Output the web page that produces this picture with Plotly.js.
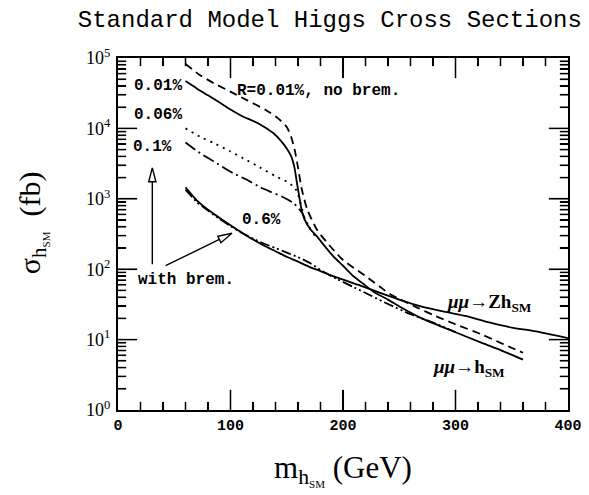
<!DOCTYPE html>
<html>
<head>
<meta charset="utf-8">
<script src="https://cdn.plot.ly/plotly-3.0.1.min.js"></script>
<style>html,body{margin:0;padding:0;background:#fff;}#chart{width:589px;height:495px;}</style>
</head>
<body>
<div id="chart"></div>
<script>
// R = 0.01% (with brem.), continuing as mu mu -> h_SM
const massR001 = [60,70,80,90,100,110,120,130,138,145,150,154,157,159,161,163,166,171,177,183,191,200,209,218,227,240,251,270,295,324,340,360];
const sigR001  = [47000,37000,29500,23500,18500,15000,12800,10500,8600,6600,5200,4000,2700,1700,1100,720,500,370,290,220,155,112,80,62,48,37,29,20,13.7,8.9,7.1,5.2];
// R = 0.01%, no brem.
const massNoBrem = [60,73,85,102,115,132,142,150,154,157,160,163,168,177,190,200,221,242,251,266,280,300,324,340,360];
const sigNoBrem  = [82000,57000,44000,32000,25000,18000,14000,10500,7500,5000,2800,1450,720,360,200,135,78,44,37,28.5,22.4,16.5,11.7,9,6.5];
// R = 0.06%
const massR006 = [60,73,85,100,115,126,140,150,157,160,162,164,166,170,175];
const sigR006  = [10000,7600,6200,4700,3500,2800,2100,1750,1450,1150,900,680,520,390,300];
// R = 0.1%
const massR01 = [60,73,85,102,115,126,136,146,156,161,164,167,171];
const sigR01  = [6300,4450,3400,2330,1850,1470,1250,1070,870,720,620,480,380];
// R = 0.6%
const massR06 = [60,70,80,90,100,110,120,130,140,150,160,170,183,195,210,225,240,260,280,300];
const sigR06  = [1350,900,680,520,410,330,272,230,200,172,148,124,91,72,55,42,32,23,17.5,12.8];
// mu mu -> Z h_SM
const massZh = [60,70,80,90,100,110,120,130,140,150,160,170,180,190,200,215,230,250,270,290,310,330,350,370,400];
const sigZh  = [1450,950,700,540,420,330,265,215,180,150,128,108,94,81,71,59,48,37,29.5,25,21.5,17.5,14.8,13.2,10.5];

// axis ticks
const xMajor = [0,100,200,300,400];
const xMajorText = ['0','100','200','300','400'];
const xMinorStep = 20;
const yDecades = [1,10,100,1000,10000,100000];
const yDecadeText = ['10<sup>0</sup>','10<sup>1</sup>','10<sup>2</sup>','10<sup>3</sup>','10<sup>4</sup>','10<sup>5</sup>'];
const yMinorMult = [2,3,4,5,6,7,8,9];

const X_RANGE = [0,400], Y_LOG_RANGE = [0,5];
const lw = 1.8;
const traces = [
  {x: massNoBrem, y: sigNoBrem, mode:'lines', line:{color:'#000', width:lw, dash:'8px,5px'}},
  {x: massR006, y: sigR006, mode:'lines', line:{color:'#000', width:lw, dash:'2px,5px'}},
  {x: massR01, y: sigR01, mode:'lines', line:{color:'#000', width:lw, dash:'12px,4px,2px,4px'}},
  {x: massR06, y: sigR06, mode:'lines', line:{color:'#000', width:lw, dash:'10px,3px,2px,3px,2px,3px'}},
  {x: massZh, y: sigZh, mode:'lines', line:{color:'#000', width:lw}},
  {x: massR001, y: sigR001, mode:'lines', line:{color:'#000', width:lw}}
];
traces.forEach(t => { t.line.shape = 'spline'; t.line.smoothing = 0.6; t.hoverinfo = 'skip'; });

// minor tick positions
const xMinorVals = [];
for (let v = X_RANGE[0] + xMinorStep; v < X_RANGE[1]; v += xMinorStep) if (xMajor.indexOf(v) < 0) xMinorVals.push(v);
const yMinorVals = [];
yDecades.slice(0, -1).forEach(d => yMinorMult.forEach(m => yMinorVals.push(m * d)));

// tick marks also drawn as thin pixel-sized rectangles anchored on the axes
const shapes = [];
function yFrac(v){ return (Math.log10(v) - Y_LOG_RANGE[0]) / (Y_LOG_RANGE[1] - Y_LOG_RANGE[0]); }
function rect(xref, xa, ya, x0, x1, y0, y1){
  shapes.push({type:'path', xref:xref, yref:'paper', xsizemode:'pixel', ysizemode:'pixel', xanchor:xa, yanchor:ya,
    path:'M' + x0 + ',' + y0 + 'L' + x1 + ',' + y0 + 'L' + x1 + ',' + y1 + 'L' + x0 + ',' + y1 + 'Z',
    fillcolor:'#000', line:{color:'#000', width:0.3}});
}
const HW = 0.6;
function xTick(v, len){ rect('x', v, 0.0001, -HW, HW, 0, len); rect('x', v, 0.9999, -HW, HW, 0, -len); }
function yTick(v, len){ const f = yFrac(v); rect('paper', 0.0001, f, 0, len, -HW, HW); rect('paper', 0.9999, f, 0, -len, -HW, HW); }
xMajor.slice(1, -1).forEach(v => xTick(v, 20));
xMinorVals.forEach(v => xTick(v, 8));
yDecades.slice(1, -1).forEach(v => yTick(v, 19));
yMinorVals.forEach(v => yTick(v, 8));

// hollow arrow heads
const PLOT_W = 450, PLOT_H = 352;
function arrow(tipX, tipLog, tailX, tailLog){
  const dx = (tipX - tailX) * PLOT_W / (X_RANGE[1] - X_RANGE[0]);
  const dy = (tipLog - tailLog) * PLOT_H / (Y_LOG_RANGE[1] - Y_LOG_RANGE[0]);
  const n = Math.hypot(dx, dy), ux = dx / n, uy = dy / n;
  const L = 14, W = 3.6;
  const bx = -L * ux, by = -L * uy;
  const p1 = [bx - W * uy, by + W * ux], p2 = [bx + W * uy, by - W * ux];
  shapes.push({type:'path', xref:'x', yref:'paper', xsizemode:'pixel', ysizemode:'pixel',
    xanchor: tipX, yanchor: tipLog / (Y_LOG_RANGE[1] - Y_LOG_RANGE[0]),
    path: 'M0,0L' + p1[0].toFixed(2) + ',' + p1[1].toFixed(2) + 'L' + p2[0].toFixed(2) + ',' + p2[1].toFixed(2) + 'Z',
    fillcolor:'#fff', line:{color:'#000', width:1.4}});
  return {x:tipX, y:tipLog, ax:tailX, ay:tailLog, xref:'x', yref:'y', axref:'x', ayref:'y', text:'',
    showarrow:true, arrowhead:0, arrowwidth:1.4, arrowcolor:'#000', standoff:L};
}

const lab = {family:'Liberation Mono, monospace', size:16, color:'#000', weight:'bold'};
const muFont = {family:'Liberation Serif, serif', size:19, color:'#000', weight:'bold'};
function txt(x, y, text, font, xanchor){
  return {x:x, y:y, xref:'x', yref:'y', text:text, showarrow:false, font:font, xanchor:xanchor||'center', yanchor:'middle'};
}
const annotations = [
  txt(35.6, 4.60, '0.01%', lab),
  txt(35.6, 4.19, '0.06%', lab),
  txt(30.7, 3.73, '0.1%', lab),
  txt(104, 4.53, 'R=0.01%, no brem.', lab, 'left'),
  txt(127.6, 2.70, '0.6%', lab),
  txt(60, 1.85, 'with brem.', lab),
  txt(330, 1.52, '<i>μμ</i>→Zh<sub>SM</sub>', muFont),
  txt(312, 0.60, '<i>μμ</i>→h<sub>SM</sub>', muFont),
  arrow(30.5, 3.44, 30.5, 2.05),
  arrow(101.3, 2.51, 41, 2.04),
  {x:-0.191, y:0.531, xref:'paper', yref:'paper', xanchor:'center', yanchor:'middle', textangle:-90, showarrow:false,
   text:'σ<sub>h<span style="font-size:11px;baseline-shift:-4px">SM</span></sub>  (fb)',
   font:{family:'Liberation Serif, serif', size:30, color:'#000'}}
];

const tickCommon = {ticks:'inside', tickwidth:1.2, tickcolor:'#000', showline:true, linewidth:2, linecolor:'#000', mirror:'ticks', showgrid:false, zeroline:false};
const layout = {
  width:589, height:495,
  margin:{l:118, r:21, t:58, b:85},
  paper_bgcolor:'#fff', plot_bgcolor:'#fff',
  showlegend:false,
  title:{text:'Standard Model Higgs Cross Sections', font:{family:'Liberation Mono, monospace', size:24, color:'#000'}, x:0.56, xref:'container', xanchor:'center', y:0.962, yref:'container', yanchor:'middle'},
  xaxis:Object.assign({}, tickCommon, {
    range:X_RANGE, tickmode:'array', tickvals:xMajor, ticktext:xMajorText, ticklen:20,
    minor:{tickmode:'array', tickvals:xMinorVals, ticks:'inside', ticklen:8, tickwidth:1.2, tickcolor:'#000'},
    tickfont:{family:'Liberation Mono, monospace', size:15, color:'#000', weight:'bold'},
    title:{text:'m<sub>h<span style="font-size:11px;baseline-shift:-4px">SM</span></sub> (GeV)', font:{family:'Liberation Serif, serif', size:31, color:'#000'}, standoff:22}
  }),
  yaxis:Object.assign({}, tickCommon, {
    type:'log', range:Y_LOG_RANGE, tickmode:'array', tickvals:yDecades, ticktext:yDecadeText, ticklen:19,
    minor:{tickmode:'array', tickvals:yMinorVals, ticks:'inside', ticklen:8, tickwidth:1.2, tickcolor:'#000'},
    ticklabelstandoff:2,
    tickfont:{family:'Liberation Serif, serif', size:18, color:'#000'}
  }),
  shapes:shapes,
  annotations:annotations
};

Plotly.newPlot('chart', traces, layout, {displayModeBar:false, staticPlot:true});
</script>
</body>
</html>
